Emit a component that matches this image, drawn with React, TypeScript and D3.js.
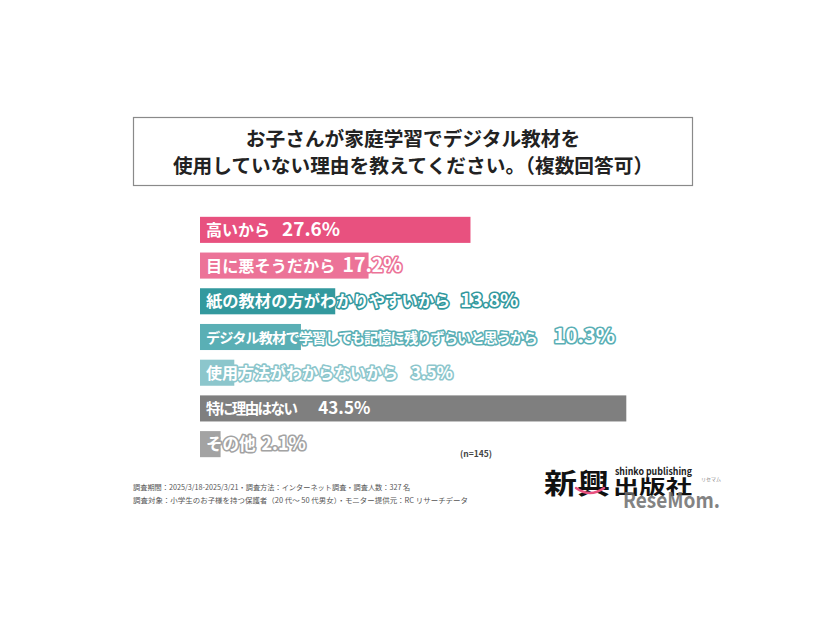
import React from "react";
import * as d3 from "d3";

const categories = [
  "高いから",
  "目に悪そうだから",
  "紙の教材の方がわかりやすいから",
  "デジタル教材で学習しても記憶に残りずらいと思うから",
  "使用方法がわからないから",
  "特に理由はない",
  "その他",
];
const values = [27.6, 17.2, 13.8, 10.3, 3.5, 43.5, 2.1];
const titleLines = [
  "お子さんが家庭学習でデジタル教材を",
  "使用していない理由を教えてください。（複数回答可）",
];
const sampleNote = "(n=145)";
const footerLines = [
  "調査期間：2025/3/18-2025/3/21・調査方法：インターネット調査・調査人数：327 名",
  "調査対象：小学生のお子様を持つ保護者（20 代～ 50 代男女）・モニター提供元：RC リサーチデータ",
];

// styling (kept apart from the data)
const colors = ["#E8517F", "#EC7398", "#33999E", "#5AAFB5", "#8CC6CC", "#7F7F7F", "#A3A3A3"];
const labelFont = [16, 16.2, 16.3, 14.2, 16, 14.5, 16.5];
const labelSpacing = [0, 0, 0, -0.9, 0, -1.6, 0];
const numFont = [19, 19.5, 19, 20, 17, 17, 18];
const numGap = [12, 7, 10, 17, 13, 22, 6];

const FONT = "'Noto Sans CJK JP', 'Noto Sans', sans-serif";

export default function App() {
  const x = d3.scaleLinear().domain([0, 50]).range([200, 690]);
  const y = d3
    .scaleBand<string>()
    .domain(categories)
    .range([212, 462])
    .paddingInner(0.27)
    .paddingOuter(0.135);

  return (
    <svg
      width={826}
      height={620}
      style={{ position: "absolute", left: 0, top: 0, background: "#fff" }}
      fontFamily={FONT}
    >
      <rect x={0} y={0} width={826} height={620} fill="#fff" />
      <rect x={133.5} y={117.5} width={559} height={68} fill="#fff" stroke="#8a8a8a" strokeWidth={1.2} />
      {titleLines.map((t, i) => (
        <text
          key={i}
          x={413}
          y={146 + i * 27}
          textAnchor="middle"
          fontSize={19.7}
          fontWeight={700}
          fill="#222"
        >
          {t}
        </text>
      ))}

      {categories.map((c, i) => {
        const y0 = y(c)!;
        const h = y.bandwidth();
        return (
          <g key={c}>
            <rect x={x(0)} y={y0} width={x(values[i]) - x(0)} height={h} fill={colors[i]} />
            <text
              x={206}
              y={y0 + h / 2 + 6}
              fontWeight={700}
              fill="#fff"
              stroke={colors[i]}
              strokeWidth={3.2}
              strokeLinejoin="round"
              paintOrder="stroke"
            >
              <tspan fontSize={labelFont[i]} letterSpacing={labelSpacing[i]}>{c}</tspan>
              <tspan dx={numGap[i]} fontSize={numFont[i]} letterSpacing={0}>
                {values[i].toFixed(1)}%
              </tspan>
            </text>
          </g>
        );
      })}

      <text x={460} y={457} fontSize={8.5} fontWeight={700} fill="#444">
        {sampleNote}
      </text>

      {footerLines.map((t, i) => (
        <text
          key={i}
          x={133}
          y={490 + i * 12.5}
          fontSize={7.2}
          fill="#555"
          textLength={i === 1 ? 335 : undefined}
          lengthAdjust="spacingAndGlyphs"
        >
          {t}
        </text>
      ))}

      {/* logo */}
      <text
        x={544}
        y={494}
        fontSize={28}
        fontWeight={700}
        fill="#111"
        textLength={66}
        lengthAdjust="spacingAndGlyphs"
      >
        新興
      </text>
      <text
        x={613}
        y={494}
        fontSize={19}
        fontWeight={700}
        fill="#111"
        textLength={79}
        lengthAdjust="spacingAndGlyphs"
      >
        出版社
      </text>
      <path d="M576,488 Q590,498 604,488" fill="none" stroke="#E8517F" strokeWidth={2.5} strokeLinecap="round" />
      <text
        x={615}
        y={475}
        fontSize={10}
        fontWeight={700}
        fill="#222"
        textLength={77}
        lengthAdjust="spacingAndGlyphs"
      >
        shinko publishing
      </text>
      <text
        x={623}
        y={508}
        fontSize={21}
        fontWeight={700}
        fill="#6e6e6e"
        opacity={0.85}
        textLength={97}
        lengthAdjust="spacingAndGlyphs"
      >
        ReseMom.
      </text>
      <text x={701} y={481} fontSize={5} fill="#888">
        リセマム
      </text>
    </svg>
  );
}
